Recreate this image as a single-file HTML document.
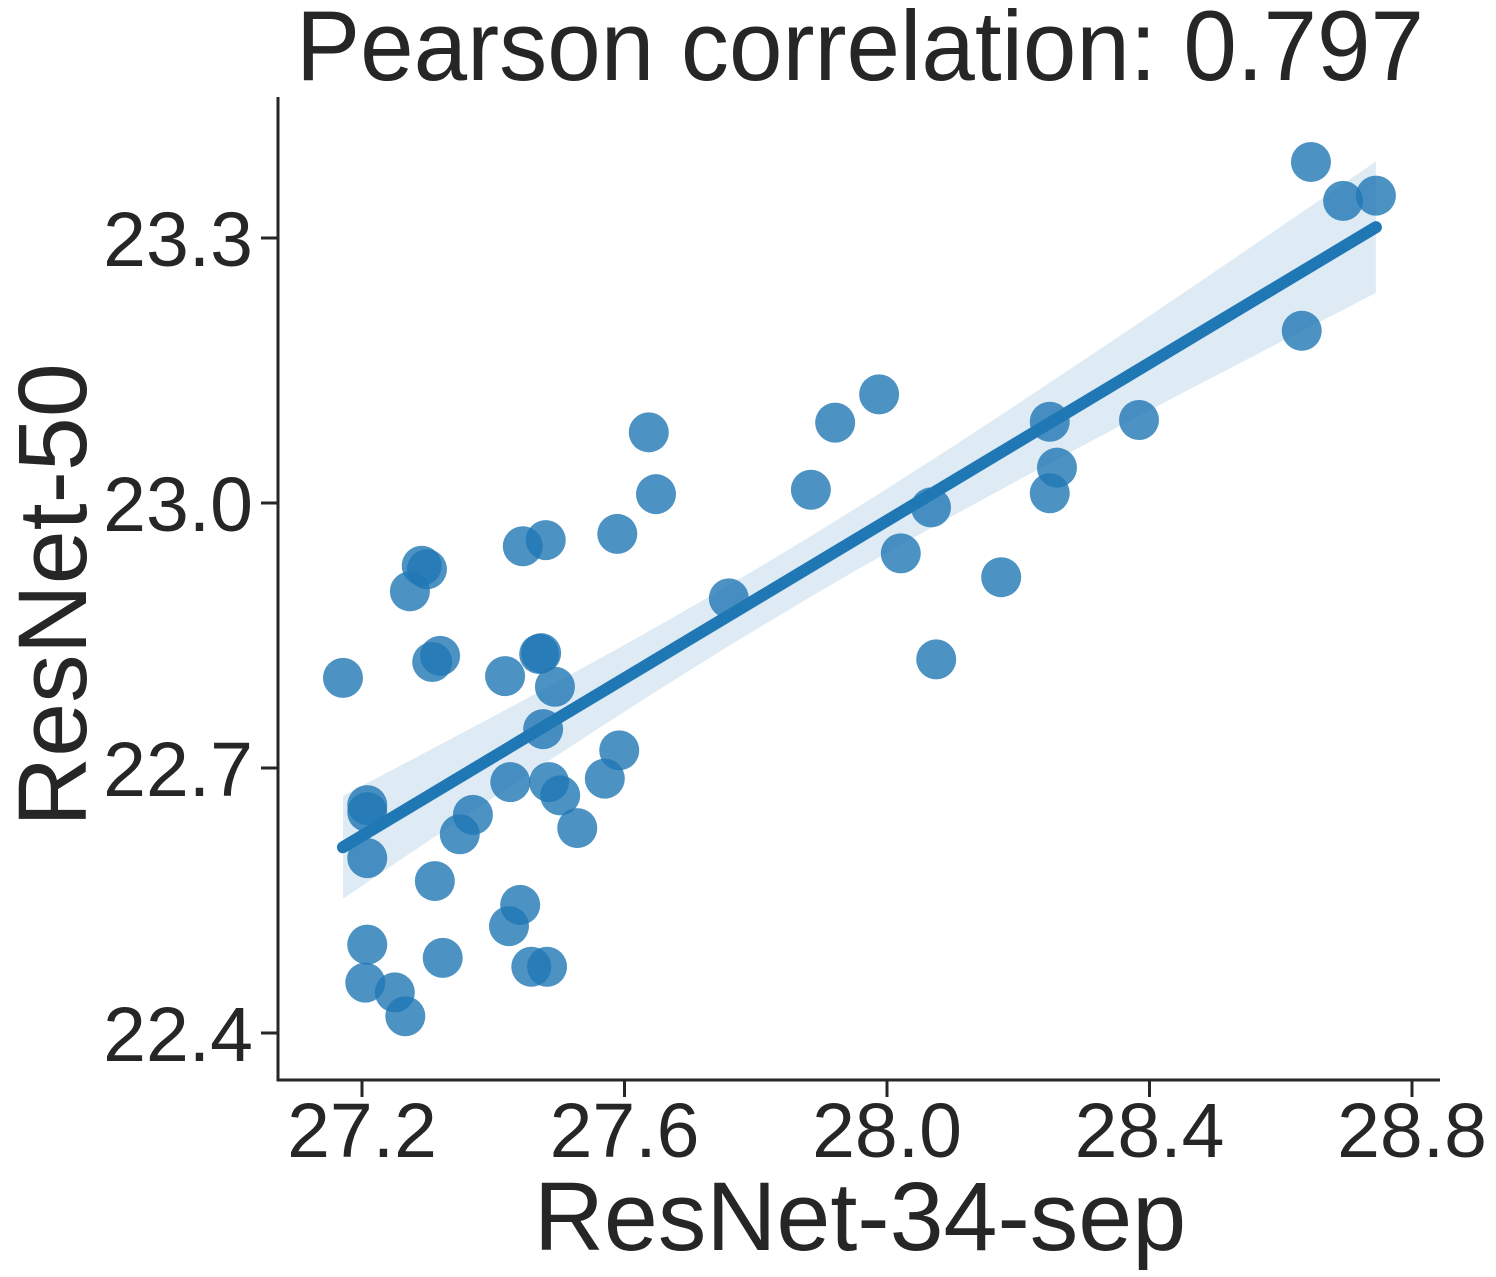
<!DOCTYPE html>
<html><head><meta charset="utf-8"><style>
html,body{margin:0;padding:0;background:#fff;}
svg{display:block;font-family:"Liberation Sans",sans-serif;}
</style></head><body>
<svg id="chart" width="1496" height="1277" viewBox="0 0 1496 1277">
<g id="band-layer"></g>
<g id="line-layer"></g>
<g id="point-layer"></g>
<g id="axis-layer"></g>
</svg>
<script>
const xValues = [27.171,27.208,27.208,27.208,27.208,27.205,27.250,27.266,27.273,27.291,27.299,27.307,27.319,27.311,27.323,27.349,27.369,27.418,27.426,27.424,27.441,27.445,27.458,27.480,27.470,27.473,27.476,27.485,27.494,27.502,27.482,27.528,27.570,27.589,27.592,27.637,27.648,27.759,27.884,27.921,27.988,28.067,28.021,28.075,28.174,28.248,28.248,28.259,28.384,28.632,28.646,28.695,28.745];
const yValues = [22.802,22.658,22.650,22.598,22.500,22.457,22.446,22.419,22.900,22.929,22.925,22.820,22.827,22.572,22.485,22.625,22.647,22.804,22.684,22.521,22.545,22.951,22.475,22.958,22.829,22.830,22.744,22.684,22.792,22.669,22.475,22.632,22.688,22.965,22.720,23.080,23.010,22.892,23.015,23.091,23.123,22.995,22.943,22.823,22.916,23.092,23.011,23.040,23.094,23.195,23.386,23.342,23.348];
const xTicks = [27.2,27.6,28.0,28.4,28.8];
const yTicks = [22.4,22.7,23.0,23.3];
const xTickLabels = ["27.2","27.6","28.0","28.4","28.8"];
const yTickLabels = ["22.4","22.7","23.0","23.3"];
const titleText = "Pearson correlation: 0.797";

const NS = "http://www.w3.org/2000/svg";
function X(v){ return 362 + (v - 27.2) * 656.25; }
function Y(v){ return 503 - (v - 23.0) * 883.33; }
function mk(tag, attrs, parent){
  const e = document.createElementNS(NS, tag);
  for (const k in attrs) e.setAttribute(k, attrs[k]);
  parent.appendChild(e);
  return e;
}
const C = "#262626";
const band = document.getElementById('band-layer');
const lineL = document.getElementById('line-layer');
const pts = document.getElementById('point-layer');
const ax = document.getElementById('axis-layer');

const n = xValues.length;
let mx=0,my=0; for(let i=0;i<n;i++){mx+=xValues[i];my+=yValues[i];} mx/=n; my/=n;
let sxx=0,sxy=0; for(let i=0;i<n;i++){sxx+=(xValues[i]-mx)**2; sxy+=(xValues[i]-mx)*(yValues[i]-my);}
const b = sxy/sxx, a = my - b*mx;
const xmin = Math.min(...xValues), xmax = Math.max(...xValues);
const mc = mx + 0.18;
const up=[], lo=[];
for(let k=0;k<=60;k++){
  const xv = xmin + (xmax-xmin)*k/60;
  const hw = Math.sqrt(0.00116 + 0.0052*(xv-mc)**2);
  const yv = a + b*xv;
  up.push(X(xv).toFixed(1)+","+Y(yv+hw).toFixed(1));
  lo.unshift(X(xv).toFixed(1)+","+Y(yv-hw).toFixed(1));
}
const bandEl = mk('polygon',{points:up.concat(lo).join(' '),fill:'#1f77b4','fill-opacity':0.15},band);


const reg = mk('line',{x1:X(xmin),y1:Y(a+b*xmin),x2:X(xmax),y2:Y(a+b*xmax),stroke:'#1f77b4','stroke-width':12,'stroke-linecap':'round'},lineL);



for(let i=0;i<n;i++){
  const c = mk('circle',{cx:X(xValues[i]),cy:Y(yValues[i]),r:20,fill:'#1f77b4','fill-opacity':0.8},pts);
  
  
}

const ls = mk('line',{x1:278,y1:97,x2:278,y2:1081.5,stroke:C,'stroke-width':3},ax);


const bs = mk('line',{x1:276.5,y1:1080,x2:1440,y2:1080,stroke:C,'stroke-width':3},ax);



xTicks.forEach((t,i)=>{
  const tk = mk('line',{x1:X(t),y1:1080,x2:X(t),y2:1097,stroke:C,'stroke-width':3},ax);
  
  
  const tl = mk('text',{x:X(t),y:1157,'text-anchor':'middle','font-size':77,fill:C},ax);
  tl.textContent = xTickLabels[i];
  
  
});
yTicks.forEach((t,i)=>{
  const tk = mk('line',{x1:261,y1:Y(t),x2:278,y2:Y(t),stroke:C,'stroke-width':3},ax);
  
  
  const tl = mk('text',{x:253,y:Y(t)+28,'text-anchor':'end','font-size':77,fill:C},ax);
  tl.textContent = yTickLabels[i];
  
  
});

const title = mk('text',{x:296,y:80,'font-size':99,fill:C,textLength:1128,lengthAdjust:'spacingAndGlyphs'},ax);
title.textContent = titleText;



const xl = mk('text',{x:860,y:1250,'text-anchor':'middle','font-size':97,fill:C},ax);
xl.textContent = "ResNet-34-sep";



const yl = mk('text',{x:0,y:0,'text-anchor':'middle','font-size':97,fill:C,transform:'translate(86,595) rotate(-90)'},ax);
yl.textContent = "ResNet-50";


</script>
</body></html>
